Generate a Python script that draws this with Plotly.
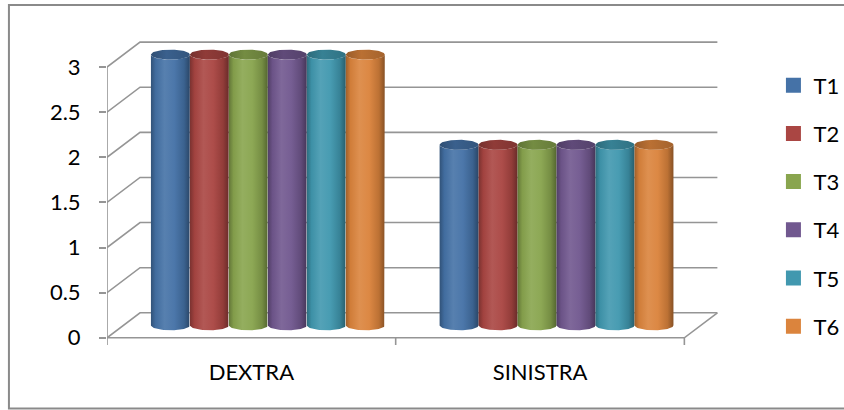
import numpy as np
import plotly.graph_objects as go

# ---------------- data ----------------
categories = ["DEXTRA", "SINISTRA"]
series_names = ["T1", "T2", "T3", "T4", "T5", "T6"]
T1 = [3, 2]
T2 = [3, 2]
T3 = [3, 2]
T4 = [3, 2]
T5 = [3, 2]
T6 = [3, 2]
series_values = [T1, T2, T3, T4, T5, T6]
y_ticks = [0, 0.5, 1, 1.5, 2, 2.5, 3]
y_tick_labels = ["0", "0.5", "1", "1.5", "2", "2.5", "3"]

# ---------------- styles ----------------
colors = ["#4572A7", "#AA4643", "#89A54E", "#71588F", "#4198AF", "#DB843D"]
FONT = "Lato"
GRID = "#959595"

W, H = 844, 410
ML, MR, MT, MB = 107, 125.4, 39.6, 65.1
X_RANGE = [0, 2.12]
Y_RANGE = [-0.08, 3.30]
PW = W - ML - MR
PH = H - MT - MB
px_x = PW / (X_RANGE[1] - X_RANGE[0])
px_y = PH / (Y_RANGE[1] - Y_RANGE[0])

DX = 33 / px_x      # back-wall depth offset (data units)
DY = 25 / px_y
DXm, DYm = DX / 2, DY / 2
RY = 5 / px_y       # cylinder ellipse half height
GROUP_PAD = 0.095
BAR_W = (1 - 2 * GROUP_PAD) / len(series_names)


def adj(hexc, f):
    r, g, b = int(hexc[1:3], 16), int(hexc[3:5], 16), int(hexc[5:7], 16)
    if f >= 1:
        t = f - 1
        r, g, b = [int(c + (255 - c) * t) for c in (r, g, b)]
    else:
        r, g, b = [int(c * f) for c in (r, g, b)]
    return "rgb(%d,%d,%d)" % (r, g, b)


fig = go.Figure()

# ---------------- walls & gridlines ----------------
n_cat = len(categories)
gx, gy = [], []
for v in y_ticks:
    gx += [0, DX, n_cat + DX, None]
    gy += [v, v + DY, v + DY, None]
gx += [0, n_cat, n_cat + DX, None]
gy += [0, 0, DY, None]
gx += [0, 0, None]
gy += [Y_RANGE[0], y_ticks[-1], None]
for i in range(1, n_cat + 1):
    gx += [i, i, None]
    gy += [0, Y_RANGE[0], None]
fig.add_trace(go.Scatter(x=gx, y=gy, mode="lines", line=dict(color=GRID, width=1.6),
                         hoverinfo="skip", showlegend=False))

# ---------------- cylinders ----------------
t = np.linspace(0, np.pi, 40)
tt = np.linspace(0, 2 * np.pi, 80)
for ci in range(n_cat):
    for si, vals in enumerate(series_values):
        v = vals[ci]
        base = colors[si]
        x0 = ci + GROUP_PAD + si * BAR_W + DXm
        x1 = x0 + BAR_W
        cx, rx = (x0 + x1) / 2, BAR_W / 2
        yb, yt = DYm, v + DYm
        bx = [x0, x0] + list(cx - rx * np.cos(t)) + [x1, x1] + list(cx + rx * np.cos(t))
        by = [yb, yt] + list(yt - RY * np.sin(t)) + [yt, yb] + list(yb - RY * np.sin(t))
        fig.add_trace(go.Scatter(
            x=bx, y=by, mode="lines", fill="toself", line=dict(width=0),
            fillgradient=dict(type="horizontal", start=x0, stop=x1, colorscale=[
                [0, adj(base, 0.72)], [0.12, adj(base, 0.95)], [0.35, adj(base, 1.10)],
                [0.6, adj(base, 1.04)], [0.85, adj(base, 0.86)], [1, adj(base, 0.62)]]),
            hoverinfo="skip", showlegend=False))
        fig.add_trace(go.Scatter(
            x=list(cx + rx * np.cos(tt)), y=list(yt + RY * np.sin(tt)),
            mode="lines", fill="toself", line=dict(width=0),
            fillgradient=dict(type="horizontal", start=x0, stop=x1, colorscale=[
                [0, adj(base, 0.7)], [0.4, adj(base, 0.85)], [1, adj(base, 0.75)]]),
            hoverinfo="skip", showlegend=False))

# ---------------- legend ----------------
for si, name in enumerate(series_names):
    fig.add_trace(go.Scatter(x=[None], y=[None], mode="markers", name=name,
                             legendgroup=name,
                             marker=dict(symbol="square", size=15, color=colors[si])))

fig.update_layout(
    width=W, height=H,
    margin=dict(l=ML, r=MR, t=MT, b=MB, pad=0, autoexpand=False),
    paper_bgcolor="white", plot_bgcolor="white",
    font=dict(family=FONT, size=22, color="#000000"),
    showlegend=True,
    legend=dict(x=(773 - ML) / PW, xanchor="left", y=(H - MB - 64) / PH, yanchor="top",
                tracegroupgap=16.6, itemsizing="trace",
                font=dict(family=FONT, size=22), bgcolor="rgba(0,0,0,0)"),
    xaxis=dict(range=X_RANGE, showgrid=False, zeroline=False, showline=False,
               tickmode="array", tickvals=[i + 0.5 for i in range(n_cat)], ticktext=categories,
               ticks="", ticklabelstandoff=12, fixedrange=True),
    yaxis=dict(range=Y_RANGE, showgrid=False, zeroline=False, showline=False,
               tickmode="array", tickvals=y_ticks, ticktext=y_tick_labels,
               ticks="outside", ticklen=7, tickcolor=GRID, tickwidth=1.6,
               ticklabelstandoff=14, fixedrange=True),
    shapes=[dict(type="rect", xref="paper", yref="paper",
                 x0=(9 - ML) / PW, x1=(860 - ML) / PW,
                 y0=(H - MB - 408.5) / PH, y1=(H - MB - 4.5) / PH,
                 line=dict(color="#8A8A8A", width=2), fillcolor="rgba(0,0,0,0)", layer="below")],
)

fig.write_html("out.html")
